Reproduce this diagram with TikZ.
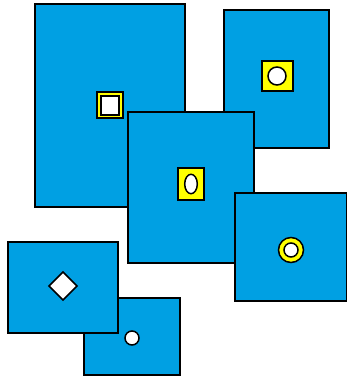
\documentclass[tikz,border=0pt]{standalone}
\usepackage{xcolor}
\usepackage{tikz}
\usetikzlibrary{shapes.geometric}

\definecolor{panelblue}{RGB}{0,160,227}
\definecolor{markyellow}{RGB}{255,255,0}

\begin{document}
\begin{tikzpicture}[x=1pt, y=-1pt,
    panel/.style={fill=panelblue, draw=black, line width=2pt},
    plate/.style={fill=markyellow, draw=black, line width=1.5pt},
    hole/.style={fill=white, draw=black, line width=1.5pt}]

  \useasboundingbox (0,0) rectangle (347,377);

  % big panel, top left
  \draw[panel] (35,4) rectangle (185,207);
  \draw[plate] (97,92) rectangle (123,118);
  \draw[markyellow, line width=1pt] (99,95) -- (121,95) (120,94) -- (120,116);
  \draw[hole]  (101,96) rectangle (119,115);

  % panel, top right
  \draw[panel] (224,10) rectangle (329,148);
  \draw[plate] (262,61) rectangle (293,91);
  \draw[hole]  (277,76) circle (9);

  % middle panel
  \draw[panel] (128,112) rectangle (254,263);
  \draw[plate] (178,168) rectangle (204,200);
  \draw[hole]  (191,184) ellipse (6.3 and 9.7);

  % right panel
  \draw[panel] (235,193) rectangle (347,301);
  \draw[plate] (291,250) circle (12.5);
  \draw[hole]  (291,250) circle (7);

  % small panel, bottom
  \draw[panel] (84,298) rectangle (180,375);
  \draw[hole]  (132,338) circle (7);

  % panel, bottom left
  \draw[panel] (8,242) rectangle (118,333);
  \draw[hole]  (63,272) -- (77,286) -- (63,300) -- (49,286) -- cycle;

\end{tikzpicture}
\end{document}
